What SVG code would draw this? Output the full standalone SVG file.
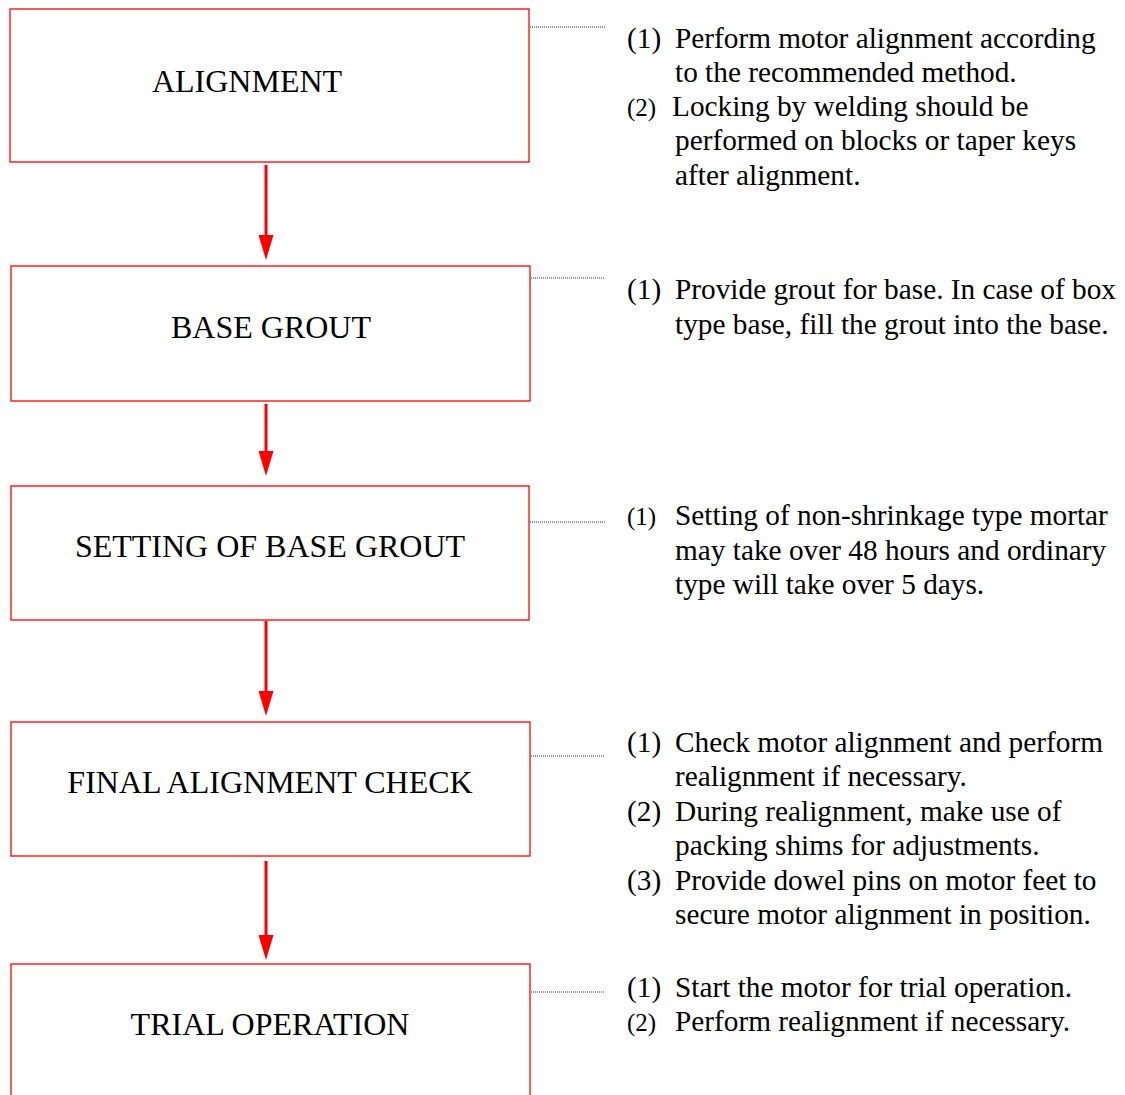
<svg xmlns="http://www.w3.org/2000/svg" width="1125" height="1095" viewBox="0 0 1125 1095">
<style>
.box{fill:#fff;stroke:#ff0000;stroke-width:1.3}
.lbl{font-family:"Liberation Serif","Times New Roman",serif;font-size:32px;fill:#000;text-anchor:middle}
.t{font-family:"Liberation Serif","Times New Roman",serif;font-size:29.3px;fill:#000}
.s{font-size:25px}
.lead{stroke:#333;stroke-width:1;stroke-dasharray:1 1}
.arr{stroke:#ff0000;stroke-width:3;fill:none}
</style>
<defs>
<marker id="ah" viewBox="0 0 25 15" refX="0" refY="7.5" markerWidth="25" markerHeight="15" markerUnits="userSpaceOnUse" orient="auto">
<path d="M0,0 L25,7.5 L0,15 Z" fill="#ff0000"/>
</marker>
</defs>
<rect width="1125" height="1095" fill="#fff"/>
<g id="connectors">
<line class="arr" x1="266" y1="165" x2="266" y2="235" marker-end="url(#ah)"/>
<line class="arr" x1="266" y1="404" x2="266" y2="451" marker-end="url(#ah)"/>
<line class="arr" x1="266" y1="621" x2="266" y2="691" marker-end="url(#ah)"/>
<line class="arr" x1="266" y1="861" x2="266" y2="935" marker-end="url(#ah)"/>
<line class="lead" x1="530" y1="27" x2="605" y2="27"/>
<line class="lead" x1="531" y1="278" x2="605" y2="278"/>
<line class="lead" x1="530" y1="522" x2="605" y2="522"/>
<line class="lead" x1="531" y1="756" x2="605" y2="756"/>
<line class="lead" x1="531" y1="992" x2="605" y2="992"/>
</g>
<g id="node-alignment">
<rect class="box" x="10" y="9" width="519" height="153"/>
<text class="lbl" x="247" y="92">ALIGNMENT</text>
</g>
<g id="note-alignment">
<text class="t" x="627" y="48">(1)</text><text class="t" x="675" y="48">Perform motor alignment according</text>
<text class="t" x="675" y="82">to the recommended method.</text>
<text class="t s" x="627" y="116">(2)</text><text class="t" x="672" y="116">Locking by welding should be</text>
<text class="t" x="675" y="150">performed on blocks or taper keys</text>
<text class="t" x="675" y="185">after alignment.</text>
</g>
<g id="node-base-grout">
<rect class="box" x="11" y="266" width="519" height="135"/>
<text class="lbl" x="271" y="338">BASE GROUT</text>
</g>
<g id="note-base-grout">
<text class="t" x="627" y="299">(1)</text><text class="t" x="675" y="299">Provide grout for base. In case of box</text>
<text class="t" x="675" y="334">type base, fill the grout into the base.</text>
</g>
<g id="node-setting">
<rect class="box" x="11" y="486" width="518" height="134"/>
<text class="lbl" x="270" y="557">SETTING OF BASE GROUT</text>
</g>
<g id="note-setting">
<text class="t s" x="627" y="525">(1)</text><text class="t" x="675" y="525">Setting of non-shrinkage type mortar</text>
<text class="t" x="675" y="560">may take over 48 hours and ordinary</text>
<text class="t" x="675" y="594">type will take over 5 days.</text>
</g>
<g id="node-final-check">
<rect class="box" x="11" y="722" width="519" height="134"/>
<text class="lbl" x="270" y="793">FINAL ALIGNMENT CHECK</text>
</g>
<g id="note-final-check">
<text class="t" x="627" y="752">(1)</text><text class="t" x="675" y="752">Check motor alignment and perform</text>
<text class="t" x="675" y="786">realignment if necessary.</text>
<text class="t" x="627" y="821">(2)</text><text class="t" x="675" y="821">During realignment, make use of</text>
<text class="t" x="675" y="855">packing shims for adjustments.</text>
<text class="t" x="627" y="890">(3)</text><text class="t" x="675" y="890">Provide dowel pins on motor feet to</text>
<text class="t" x="675" y="924">secure motor alignment in position.</text>
</g>
<g id="node-trial">
<rect class="box" x="11" y="964" width="519" height="140"/>
<text class="lbl" x="270" y="1035">TRIAL OPERATION</text>
</g>
<g id="note-trial">
<text class="t" x="627" y="997">(1)</text><text class="t" x="675" y="997">Start the motor for trial operation.</text>
<text class="t s" x="627" y="1031">(2)</text><text class="t" x="675" y="1031">Perform realignment if necessary.</text>
</g>
</svg>
